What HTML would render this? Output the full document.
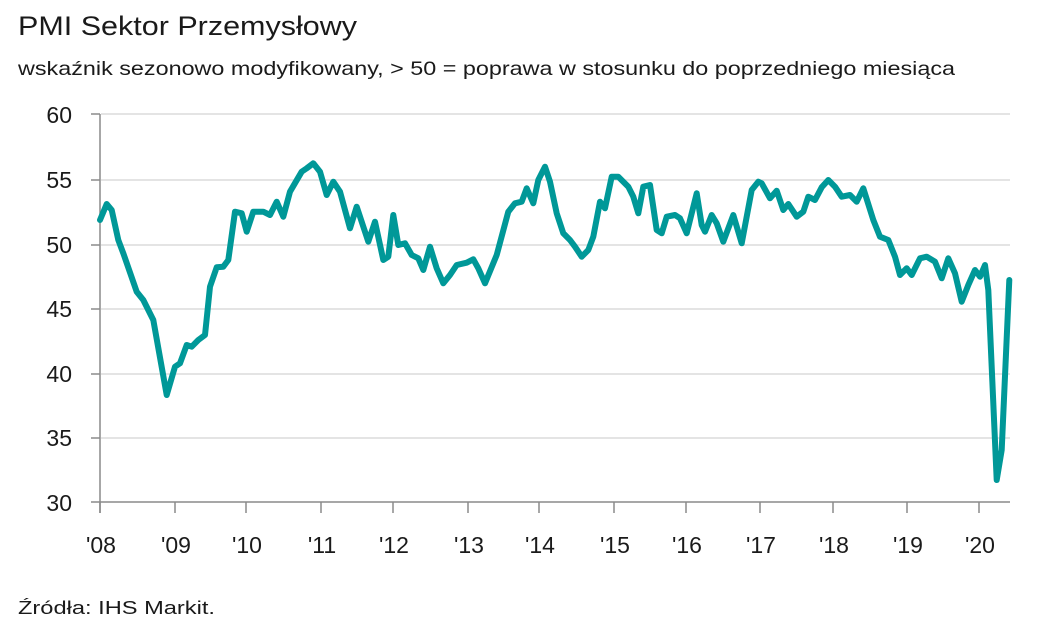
<!DOCTYPE html>
<html><head><meta charset="utf-8"><style>
html,body{margin:0;padding:0;background:#fff;width:1048px;height:631px;overflow:hidden}
svg{display:block;font-family:"Liberation Sans",sans-serif;fill:#1a1a1a}
</style></head><body>
<svg id="s" width="1048" height="631" xmlns="http://www.w3.org/2000/svg">
<text x="18" y="35" font-size="27" textLength="339" lengthAdjust="spacingAndGlyphs">PMI Sektor Przemysłowy</text>
<text x="18" y="75" font-size="19.5" textLength="937" lengthAdjust="spacingAndGlyphs">wskaźnik sezonowo modyfikowany, &gt; 50 = poprawa w stosunku do poprzedniego miesiąca</text>
<g stroke="#dcdcdc" stroke-width="1.5">
<line x1="101" y1="114" x2="1010" y2="114"/><line x1="101" y1="180" x2="1010" y2="180"/>
<line x1="101" y1="245" x2="1010" y2="245"/><line x1="101" y1="309" x2="1010" y2="309"/>
<line x1="101" y1="374" x2="1010" y2="374"/><line x1="101" y1="438" x2="1010" y2="438"/>
</g>
<g stroke="#8a8a8a" stroke-width="1.5" id="ax">
<line x1="100" y1="114" x2="100" y2="513"/><line x1="91" y1="502" x2="1010" y2="502"/>
<line x1="91" y1="114" x2="100" y2="114"/><line x1="91" y1="180" x2="100" y2="180"/><line x1="91" y1="245" x2="100" y2="245"/>
<line x1="91" y1="309" x2="100" y2="309"/><line x1="91" y1="374" x2="100" y2="374"/><line x1="91" y1="438" x2="100" y2="438"/>
</g>
<g font-size="23" text-anchor="end">
<text x="72" y="123">60</text><text x="72" y="188">55</text><text x="72" y="253">50</text>
<text x="72" y="317">45</text><text x="72" y="382">40</text><text x="72" y="446">35</text><text x="72" y="511">30</text>
</g>
<g id="xl" font-size="23" text-anchor="middle"></g>
<path id="ln" fill="none" stroke="#009898" stroke-width="6" stroke-linejoin="round" stroke-linecap="round"/>
<text x="18" y="614" font-size="18" textLength="197" lengthAdjust="spacingAndGlyphs">Źródła: IHS Markit.</text>
</svg>
<script>
var a=[[30,360],[50,312],[65,330],[85,420],[100,460],[140,575],[160,600],[190,660],[230,885],[255,800],[270,790],[290,735],[305,740],[325,720],[345,705],[360,560],[380,502],[400,500],[415,480],[435,335],[455,340],[470,395],[490,335],[520,335],[540,345],[560,305],[580,350],[600,275],[635,215],[650,205],[670,190],[690,215],[710,285],[730,245],[750,275],[780,385],[800,320],[835,425],[855,365],[880,480],[895,470],[910,345],[925,435],[945,430],[965,465],[985,475],[1000,510],[1020,440],[1040,505],[1060,550],[1080,525],[1100,495],[1130,488],[1150,478],[1165,505],[1185,550],[1220,465],[1255,335],[1275,310],[1295,305],[1310,265],[1330,310],[1345,240],[1365,200],[1380,245],[1400,340],[1420,400],[1440,420]];
var b=[[45,440],[65,470],[85,450],[100,410],[120,305],[135,325],[155,230],[175,230],[205,260],[220,290],[235,340],[250,260],[270,255],[290,390],[305,400],[320,350],[345,345],[360,355],[380,400],[410,280],[425,375],[435,395],[455,345],[470,370],[490,425],[520,345],[545,430],[575,270],[595,245],[605,250],[630,295],[650,272],[670,330],[685,312],[710,350],[730,335],[745,290],[765,300],[785,262],[805,240],[825,260],[845,290],[870,285],[890,305],[910,265],[940,360],[960,410],[985,420],[1005,470],[1020,525],[1040,505],[1055,525],[1080,475],[1100,470],[1125,485],[1145,535],[1165,475],[1185,520],[1205,605],[1225,555],[1245,510],[1260,530],[1275,495],[1285,570],[1310,1140],[1325,1050],[1348,540]];
var p=[];a.forEach(function(q){p.push((90+q[0]/3).toFixed(1)+","+(100+q[1]/3).toFixed(1))});
b.forEach(function(q){p.push((560+q[0]/3).toFixed(1)+","+(100+q[1]/3).toFixed(1))});
document.getElementById("ln").setAttribute("d","M"+p.join("L"));
var tx=[100,175,246,321,393,468,539,614,686,760,833,907,979],lb=["'08","'09","'10","'11","'12","'13","'14","'15","'16","'17","'18","'19","'20"];
var ax=document.getElementById("ax"),xl=document.getElementById("xl"),ns="http://www.w3.org/2000/svg";
tx.forEach(function(x,i){var l=document.createElementNS(ns,"line");l.setAttribute("x1",x);l.setAttribute("x2",x);l.setAttribute("y1",502);l.setAttribute("y2",513);ax.appendChild(l);
var t=document.createElementNS(ns,"text");t.setAttribute("x",x+1);t.setAttribute("y",553);t.textContent=lb[i];xl.appendChild(t);});
</script>
</body></html>
